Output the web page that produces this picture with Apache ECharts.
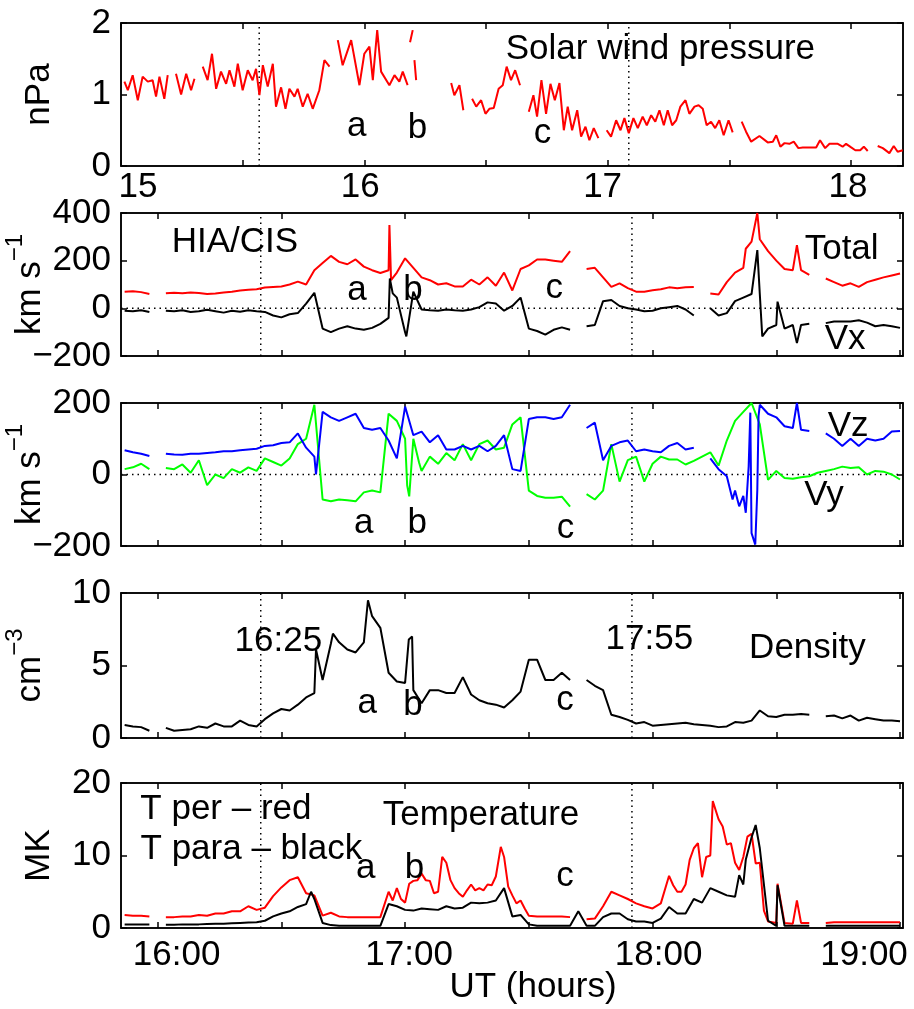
<!DOCTYPE html>
<html>
<head>
<meta charset="utf-8">
<script src="https://cdn.jsdelivr.net/npm/echarts@6/dist/echarts.min.js"></script>
<style>
html, body { margin: 0; padding: 0; background: #fff; }
#main { width: 914px; height: 1009px; }
</style>
</head>
<body>
<div id="main"></div>
<script>
var myChart = echarts.init(document.getElementById('main'));
var FONT = '"Liberation Sans", Arial, Helvetica, sans-serif';

// solar wind pressure (hours on the upper time axis), null = data gap
var swHour = [
    15.014, 15.028, 15.048, 15.069, 15.089, 15.110, 15.130, 15.144, 15.158, 15.178, 15.192, 15.209,
    15.226, 15.247, 15.268, 15.288, 15.302, 15.320,
    15.336, 15.356, 15.374, 15.391, 15.411, 15.432, 15.446, 15.466, 15.480, 15.500, 15.521, 15.541,
    15.555, 15.569, 15.583, 15.603, 15.624, 15.637, 15.658, 15.676, 15.692, 15.713, 15.726, 15.747,
    15.767, 15.788, 15.815, 15.836, 15.857, 15.874,
    15.891, 15.911, 15.946, 15.980, 16.000, 16.021, 16.035, 16.053, 16.069, 16.103, 16.124, 16.144,
    16.158, 16.178, 16.183, 16.188, 16.199, 16.203, 16.206, 16.213, 16.300,
    16.357, 16.370, 16.391, 16.407, 16.425,
    16.443, 16.460, 16.480, 16.498, 16.514, 16.532, 16.552, 16.569, 16.585, 16.603, 16.620, 16.640, 16.660,
    16.676, 16.695, 16.710, 16.728, 16.747, 16.765, 16.783, 16.802, 16.820, 16.836, 16.854, 16.875,
    16.891, 16.909, 16.925, 16.943, 16.962, 16.980,
    16.996, 17.014, 17.035, 17.053, 17.069, 17.087, 17.106, 17.124, 17.144, 17.161, 17.179, 17.196,
    17.213, 17.231, 17.247, 17.265, 17.282, 17.299, 17.320, 17.336, 17.357, 17.374, 17.391, 17.407,
    17.425, 17.442, 17.459, 17.477, 17.497, 17.514, 17.530,
    17.551, 17.569, 17.590, 17.624, 17.658, 17.679, 17.693, 17.710, 17.727, 17.747, 17.765, 17.784,
    17.802, 17.857, 17.873, 17.894, 17.912, 17.946, 17.966, 17.980, 18.001, 18.018, 18.038, 18.053,
    18.069, 18.090,
    18.110, 18.131, 18.158, 18.176, 18.192, 18.213
];
var swPressure = [
    1.18, 1.06, 1.27, 0.92, 1.25, 1.18, 1.20, 0.97, 1.25, 0.94, 1.27, null,
    1.29, 1.00, 1.29, 1.06, 1.22, null,
    1.39, 1.20, 1.57, 1.08, 1.32, 1.15, 1.34, 1.11, 1.43, 1.06, 1.34, 1.20,
    1.36, 0.99, 1.41, 1.11, 1.43, 0.83, 1.10, 0.80, 1.08, 0.97, 1.08, 0.83,
    1.01, 0.80, 1.06, 1.48, 1.39, null,
    1.76, 1.41, 1.76, 1.13, 1.57, 1.67, 1.20, 1.90, 1.32, 1.13, 1.27, 1.18,
    1.32, 1.13, null, 1.73, 1.90, null, 1.48, 1.20, null,
    1.16, 0.99, 1.13, 0.78, null,
    0.94, 0.83, 0.92, 0.73, 0.80, 0.81, 1.08, 1.13, 1.39, 1.20, 1.34, 1.13, null,
    0.76, 0.99, 0.69, 1.20, 0.73, 1.15, 0.92, 1.16, 0.50, 0.83, 0.50, 0.78,
    0.41, 0.55, 0.36, 0.53, 0.39, null,
    0.50, 0.41, 0.64, 0.50, 0.67, 0.46, 0.67, 0.53, 0.69, 0.57, 0.71, 0.62,
    0.78, 0.57, 0.78, 0.57, 0.64, 0.83, 0.92, 0.73, 0.83, 0.85, 0.80, 0.57,
    0.62, 0.53, 0.64, 0.43, 0.64, 0.47, null,
    0.62, 0.48, 0.34, 0.42, 0.33, 0.34, 0.43, 0.27, 0.32, 0.31, 0.34, 0.25,
    0.26, 0.26, 0.36, 0.25, 0.31, 0.31, 0.27, 0.31, 0.26, 0.22, 0.22, 0.27,
    0.21, null,
    0.28, 0.25, 0.18, 0.28, 0.20, 0.22
];

// spacecraft data, minutes after 16:00 UT (2-min readings)
var minutes = [
    -8, -6, -4, -2, 0, 2, 4, 6, 8, 10,
    12, 14, 16, 18, 20, 22, 24, 26, 28, 30,
    32, 34, 36, 38, 40, 42, 44, 46, 48, 50,
    52, 54, 56, 58, 60, 62, 64, 66, 68, 70,
    72, 74, 76, 78, 80, 82, 84, 86, 88, 90,
    92, 94, 96, 98, 100, 102, 104, 106, 108, 110,
    112, 114, 116, 118, 120, 122, 124, 126, 128, 130,
    132, 134, 136, 138, 140, 142, 144, 146, 148, 150,
    152, 154, 156, 158, 160, 162, 164, 166, 168, 170,
    172, 174, 176, 178, 180
];
var vTotal = [
    70, 72, 68, 60, null, 63, 65, 63, 66, 64,
    60, 62, 66, 70, 75, 78, 80, 87, 90, 92,
    100, 112, 100, 160, 190, 220, 195, 185, 205, 175,
    160, 148, 160, 150, 210, 170, 130, 118, 100, 105,
    92, 92, 120, 100, 130, 95, 150, 75, 165, 180,
    205, 205, 200, 195, 240, null, 165, 170, 130, 90,
    105, 85, 70, 70, 76, 80, 88, 84, 88, 90,
    null, 62, 58, 110, 150, 170, 280, 290, 240, 200,
    165, 160, 160, 140, null, 125, 110, 95, 105, 90,
    110, 120, 130, 138, 146
];
var vX = [
    -10, -12, -8, -15, null, -10, -12, -8, -15, -12,
    -6, -12, -18, -10, -14, -8, -12, -15, -30, -38,
    -25, -20, 20, 65, -85, -100, -85, -75, -85, -90,
    -82, -65, -40, 45, -100, 70, -5, -8, -10, -5,
    -8, -10, -5, 5, 25, 20, -10, 10, 45, -85,
    -95, -110, -90, -80, -90, null, -75, -70, 30, 35,
    10, 0, -5, -12, -10, 0, 5, 10, -5, -30,
    null, 0, -30, -20, 30, 45, 60, 60, -85, -70,
    -85, -70, -70, -65, null, -62, -55, -55, -55, -50,
    -60, -75, -70, -75, -82
];
var vZ = [
    68, 62, 58, 52, null, 58, 56, 55, 58, 58,
    60, 62, 65, 65, 68, 70, 72, 80, 82, 88,
    90, 115, 75, 50, 175, 160, 150, 160, 170, 130,
    125, 130, 95, 45, 190, 110, 120, 90, 110, 70,
    70, 80, 70, 80, 65, 80, 110, 15, 10, 155,
    160, 160, 155, 160, 195, null, 130, 145, 40, 80,
    90, 95, 65, 70, 65, 62, 80, 88, 70, 75,
    null, 45, 15, -5, -45, -60, -164, 195, 170, 160,
    135, 130, 125, 122, null, 115, 100, 80, 100, 80,
    100, 95, 100, 120, 122
];
var vY = [
    15, 20, 30, 15, null, 18, 15, 28, 5, 40,
    -30, 0, -10, 15, 5, 20, 10, 45, 35, 25,
    45, 85, 100, 195, -70, -75, -70, -72, -75, -50,
    -45, -50, 170, 150, 100, 100, 10, 50, 30, 60,
    40, 85, 40, 85, 95, 70, 75, 140, 160, -45,
    -60, -65, -65, -62, -90, null, -55, -70, -45, 85,
    -20, 40, 50, -20, 30, 50, 42, 42, 28, 38,
    50, 62, 25, 95, 150, 175, 200, 140, -15, 10,
    -10, -12, -8, -5, 5, 10, 15, 22, 18, 20,
    0, 10, 8, 0, -14
];
var density = [
    0.9, 0.8, 0.75, 0.5, null, 0.7, 0.5, 0.55, 0.6, 0.8,
    0.7, 1.0, 0.8, 0.8, 1.2, 0.9, 0.8, 1.3, 1.7, 2.0,
    1.9, 2.3, 2.8, 3.1, 4.0, 6.5, 6.6, 6.1, 5.9, 6.6,
    8.4, 7.6, 4.5, 3.9, 3.8, 3.3, 2.4, 3.3, 3.3, 3.1,
    3.1, 4.2, 3.0, 2.6, 2.4, 2.3, 2.1, 2.6, 3.2, 5.4,
    5.4, 4.0, 4.0, 4.5, 4.0, null, 4.0, 3.6, 3.3, 1.6,
    1.45, 1.25, 1.0, 1.1, 0.85, 0.9, 0.95, 1.0, 1.05, 0.95,
    0.9, 0.85, 0.75, 0.8, 1.1, 1.05, 1.2, 1.9, 1.5, 1.45,
    1.6, 1.6, 1.65, 1.6, null, 1.5, 1.55, 1.35, 1.55, 1.2,
    1.4, 1.3, 1.2, 1.2, 1.15
];
var tPer = [
    1.8, 1.7, 1.7, 1.6, null, 1.5, 1.5, 1.6, 1.6, 1.8,
    1.7, 2.0, 2.0, 2.3, 2.3, 3.0, 2.5, 2.8, 4.4, 5.6,
    6.6, 7.0, 4.8, 4.5, 1.7, 2.1, 1.6, 1.5, 1.5, 1.5,
    1.5, 1.5, 5.0, 5.5, 3.5, 6.5, 7.5, 6.5, 5.0, 9.0,
    5.5, 4.3, 6.0, 5.5, 6.0, 7.1, 9.8, 4.5, 3.8, 1.7,
    1.6, 1.6, 1.6, 1.6, 1.5, null, 1.2, 1.3, 3.0, 5.0,
    4.5, 4.0, 3.4, 3.0, 2.7, 3.4, 7.2, 5.0, 6.0, 11.0,
    7.0, 10.0, 15.0, 11.5, 9.0, 9.8, 13.0, 9.0, 0.9, 0.7,
    0.7, 0.6, 0.7, 0.7, null, 0.7, 0.8, 0.8, 0.8, 0.8,
    0.8, 0.8, 0.8, 0.8, 0.8
];
var tPara = [
    0.5, 0.5, 0.5, 0.5, null, 0.45, 0.45, 0.5, 0.5, 0.5,
    0.55, 0.6, 0.6, 0.65, 0.7, 0.75, 0.8, 1.0, 1.6, 2.0,
    2.3, 2.9, 3.3, 4.0, 0.7, 0.4, 0.3, 0.3, 0.3, 0.3,
    0.3, 0.3, 3.3, 3.0, 2.5, 2.4, 2.7, 2.6, 2.5, 3.0,
    2.7, 2.8, 3.5, 3.4, 3.5, 3.8, 5.5, 1.6, 1.8, 0.5,
    0.3, 0.3, 0.3, 0.3, 0.3, 2.3, 0.3, 0.3, 1.5, 2.0,
    2.0, 1.2, 0.9, 0.9, 0.7, 1.3, 2.9, 2.0, 2.0, 4.0,
    3.5, 5.5, 5.0, 4.5, 4.3, 6.0, 12.5, 11.0, 1.0, 0.3,
    0.3, 0.3, 0.3, 0.3, null, 0.3, 0.3, 0.3, 0.3, 0.3,
    0.3, 0.3, 0.3, 0.3, 0.3
];

// extra readings at spikes / noisy stretches: [minute after 16:00, value]
var vTotalExtra = [[56.2, 350], [56.6, 118], [142.6, 250], [145.4, 400], [155, 265]];
var vXExtra = [[56.3, 125], [57, 63], [60.3, -118], [145.4, 244], [146.6, -118], [150.3, 28], [155, -146]];
var vZExtra = [[38.4, 0], [139.4, -70], [141, -89], [142.6, -107], [143.3, 23], [143.7, 173],
    [144.9, -196], [145.4, -42], [145.7, 164], [155, 200]];
var vYExtra = [[60.5, -30], [61, -61], [63.4, 33]];
var densityExtra = [[38.4, 6.1], [42.5, 7.2], [51, 9.5], [60.9, 6.8], [61.7, 7.0]];
var tPerExtra = [[57, 3.8], [59, 4.0], [61, 6.1], [63, 6.6], [65, 6.6], [67, 4.8], [69, 9.8], [71, 6.6],
    [73, 4.8], [75, 5.2], [77, 5.2], [79, 5.2], [81, 5.9], [83.2, 11.2], [85, 5.7], [87, 3.4], [89, 2.7],
    [125, 5.9], [127, 5.0], [129, 9.4], [131, 11.7], [133, 9.8], [134.6, 17.5], [137, 14], [139, 11.7],
    [141, 8.0], [143, 12.6], [145, 8.9], [147, 2.4], [150.3, 6.1], [155, 3.8]];
var tParaExtra = [[37.2, 5.0], [141, 7.3], [142.6, 9.4], [145, 14.2], [150.3, 5.9]];

// event times (dotted lines)
var eventHours = [16 + 25 / 60, 17 + 55 / 60];
var swEventHours = [15.568, 17.087];

// ticks / labels
var swTicks = [15, 15.5, 16, 16.5, 17, 17.5, 18];
var swTickLabels = [15, 16, 17, 18];
var utTicks = [16, 16.5, 17, 17.5, 18, 18.5, 19];
var utTickLabels = [16, 17, 18, 19];

// text notes [text, hour, value]
var notes = [
    [['Solar wind pressure', 17.217, 1.63], ['a', 15.969, 0.55], ['b', 16.219, 0.53], ['c', 16.732, 0.46]],
    [['HIA/CIS', 16.312, 276], ['Total', 18.764, 247], ['Vx', 18.778, -131], ['a', 16.806, 77], ['b', 17.032, 77], ['c', 17.603, 85]],
    [['Vz', 18.79, 134], ['Vy', 18.693, -57], ['a', 16.833, -136], ['b', 17.049, -136], ['c', 17.648, -150]],
    [['16:25', 16.488, 6.66], ['17:55', 17.987, 6.79], ['Density', 18.626, 6.17], ['a', 16.847, 2.41], ['b', 17.032, 2.28], ['c', 17.646, 2.62]],
    [['T per \u2013 red', 16.276, 16.34], ['T para \u2013 black', 16.379, 10.83], ['Temperature', 17.307, 15.52], ['a', 16.841, 8.28], ['b', 17.038, 8.28], ['c', 17.646, 7.17]]
];

var panels = [
    {top: 23, height: 143, min: 0, max: 2, step: 1, name: '{m|nPa}', gap: 64, zero: false},
    {top: 213, height: 143, min: -200, max: 400, step: 200, name: '{m|km s}{s|\u22121}', gap: 64, zero: true},
    {top: 403, height: 143, min: -200, max: 200, step: 200, name: '{m|km s}{s|\u22121}', gap: 64, zero: true},
    {top: 593, height: 145, min: 0, max: 10, step: 5, name: '{m|cm}{s|\u22123}', gap: 64, zero: false},
    {top: 783, height: 145, min: 0, max: 20, step: 10, name: '{m|MK}', gap: 64, zero: false}
];

var black = '#000';
var txt = {fontSize: 35, color: black, fontFamily: FONT};

var tickStyle = function (vals) {
    var t = {inside: true, length: 6, lineStyle: {color: black, width: 1.5}};
    if (vals) t.customValues = vals;
    return t;
};
var pad = function (l, r) {
    return {fontSize: 35, color: black, fontFamily: FONT, padding: [0, r, 0, l]};
};
var axisLine = function () {
    return {show: true, onZero: false, lineStyle: {color: black, width: 1.5}};
};

var grids = [], xAxes = [], yAxes = [], series = [];
panels.forEach(function (p, i) {
    var isSw = i === 0;
    p.xmin = isSw ? 15.0 : 15.852;
    p.xmax = isSw ? 18.214 : 19.012;
    grids.push({left: 121, width: 782, top: p.top, height: p.height, show: true,
        containLabel: false, outerBoundsMode: 'none',
        borderColor: black, borderWidth: 1.5, backgroundColor: 'transparent'});
    var ticks = isSw ? swTicks : utTicks;
    var showLab = (i === 0 || i === 4);
    var bottom = {
        type: 'value', gridIndex: i, position: 'bottom', min: p.xmin, max: p.xmax,
        axisLine: axisLine(), axisTick: tickStyle(ticks), splitLine: {show: false},
        axisLabel: {show: showLab, customValues: isSw ? swTickLabels : utTickLabels,
            margin: isSw ? 4 : 10,
            formatter: isSw ? function (v) { return '{h' + v + '|' + v + '}'; }
                            : function (v) { return '{h' + v + '|' + v + ':00}'; },
            rich: isSw ? {h15: pad(34, 0), h16: pad(0, 8), h17: pad(0, 10), h18: pad(0, 6)}
                       : {h16: pad(38, 0), h17: pad(8, 0), h18: pad(12, 0), h19: pad(0, 72)}
        }
    };
    if (i === 4) {
        bottom.name = 'UT (hours)';
        bottom.nameLocation = 'middle';
        bottom.nameGap = 42;
        bottom.nameMoveOverlap = false;
        bottom.nameTextStyle = {fontSize: 35, color: black, fontFamily: FONT, padding: [0, 0, 0, 42]};
    }
    xAxes.push(bottom);
    xAxes.push({
        type: 'value', gridIndex: i, position: 'top', min: p.xmin, max: p.xmax,
        axisLine: axisLine(), axisTick: tickStyle(ticks),
        axisLabel: {show: false}, splitLine: {show: false}
    });
    yAxes.push({
        type: 'value', gridIndex: i, position: 'left', min: p.min, max: p.max, interval: p.step,
        axisLine: axisLine(), axisTick: tickStyle(), splitLine: {show: false},
        axisLabel: Object.assign({margin: 10, formatter: function (v) {
            return String(v).replace('-', '\u2212');
        }}, txt),
        name: p.name, nameLocation: 'middle', nameRotate: 90, nameGap: p.gap,
        nameMoveOverlap: false,
        nameTextStyle: {rich: {
            m: {fontSize: 35, color: black, fontFamily: FONT},
            s: {fontSize: 24, color: black, fontFamily: FONT, padding: [0, 0, 30, 0]}
        }}
    });
    yAxes.push({
        type: 'value', gridIndex: i, position: 'right', min: p.min, max: p.max, interval: p.step,
        axisLine: axisLine(), axisTick: tickStyle(), axisLabel: {show: false}, splitLine: {show: false}
    });

    // dotted reference lines: event times and zero level
    var ref = [];
    (isSw ? swEventHours : eventHours).forEach(function (h) {
        ref.push([h, p.min], [h, p.max], [h, null]);
    });
    if (p.zero) ref.push([p.xmin, 0], [p.xmax, 0]);
    series.push({
        type: 'line', xAxisIndex: 2 * i, yAxisIndex: 2 * i, silent: true, z: 1,
        data: ref, showSymbol: false, symbol: 'none', connectNulls: false,
        lineStyle: {color: black, width: 1.5, type: [1.5, 4]}
    });
});

// merge 2-min readings with the extra readings, in time order
var pairs = function (vals, extra) {
    var d = minutes.map(function (m, k) {
        return [16 + m / 60, vals[k]];
    });
    (extra || []).forEach(function (e) {
        d.push([16 + e[0] / 60, e[1]]);
    });
    d.sort(function (a, b) { return a[0] - b[0]; });
    return d;
};

var line = function (i, name, data, color) {
    return {
        name: name, type: 'line', xAxisIndex: 2 * i, yAxisIndex: 2 * i, z: 3,
        data: data, showSymbol: false, symbol: 'none', connectNulls: false,
        lineStyle: {color: color, width: 2}, itemStyle: {color: color}
    };
};

series.push(
    line(0, 'Pressure', swHour.map(function (h, k) { return [h, swPressure[k]]; }), '#ff0000'),
    line(1, 'Total', pairs(vTotal, vTotalExtra), '#ff0000'),
    line(1, 'Vx', pairs(vX, vXExtra), black),
    line(2, 'Vy', pairs(vY, vYExtra), '#00ff00'),
    line(2, 'Vz', pairs(vZ, vZExtra), '#0000ff'),
    line(3, 'Density', pairs(density, densityExtra), black),
    line(4, 'T per', pairs(tPer, tPerExtra), '#ff0000'),
    line(4, 'T para', pairs(tPara, tParaExtra), black)
);

notes.forEach(function (list, i) {
    series.push({
        type: 'scatter', xAxisIndex: 2 * i, yAxisIndex: 2 * i, silent: true, z: 10,
        symbolSize: 0, itemStyle: {color: 'transparent', opacity: 1},
        label: {show: true, position: 'inside', formatter: '{b}', opacity: 1,
            fontSize: 35, color: black, fontFamily: FONT},
        data: list.map(function (n) { return {name: n[0], value: [n[1], n[2]]}; })
    });
});

option = {
    animation: false,
    backgroundColor: '#fff',
    textStyle: {fontFamily: FONT},
    grid: grids,
    xAxis: xAxes,
    yAxis: yAxes,
    series: series
};

myChart.setOption(option);
</script>
</body>
</html>
